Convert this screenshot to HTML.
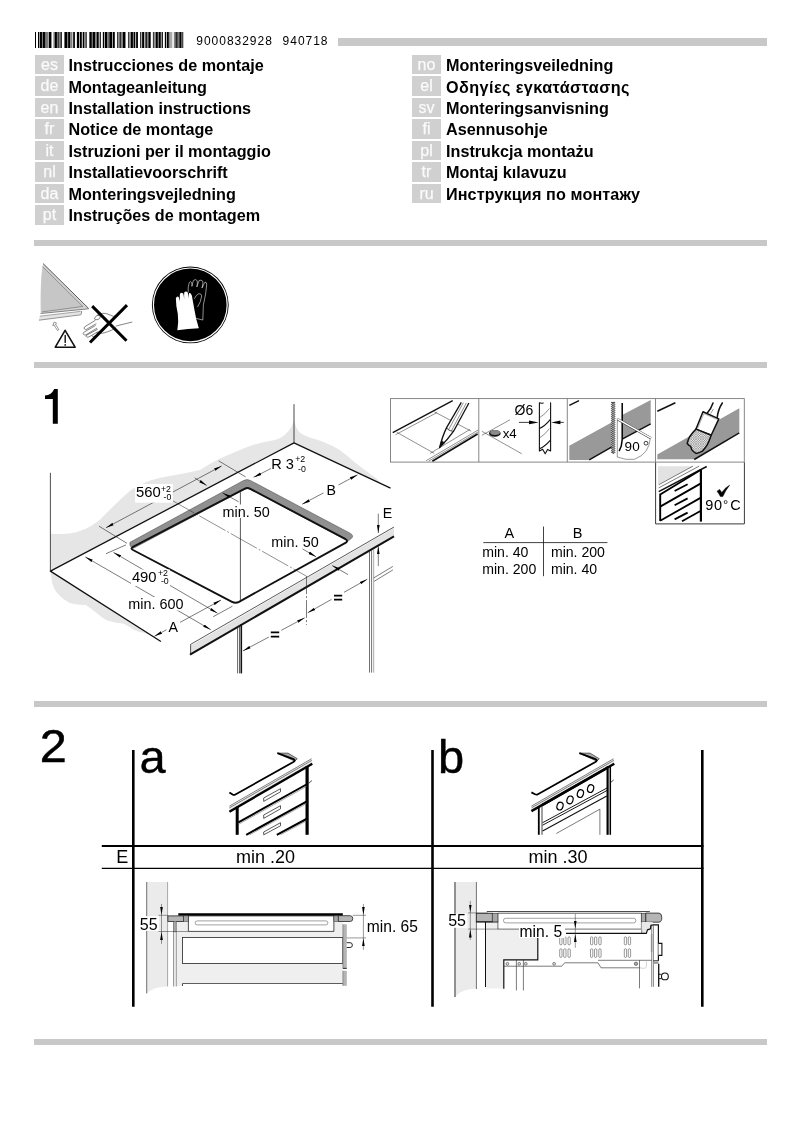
<!DOCTYPE html>
<html><head><meta charset="utf-8">
<style>
html,body{margin:0;padding:0;background:#fff;}
body{width:802px;height:1134px;position:relative;overflow:hidden;will-change:transform;font-family:"Liberation Sans",sans-serif;color:#000;}
.bar{position:absolute;background:#c8c8c8;left:34.2px;width:732.8px;height:6px;}
.lg{position:absolute;width:29px;height:19.3px;background:#d0d0d0;color:#fafafa;font-size:16px;line-height:20px;text-align:center;-webkit-text-stroke:0.25px #fafafa;}
.lt{position:absolute;font-weight:bold;font-size:16.2px;line-height:19px;white-space:nowrap;}
.num{position:absolute;top:33.3px;font-size:12px;line-height:16px;letter-spacing:0.98px;white-space:pre;}
svg{position:absolute;left:0;top:0;}
svg text{font-family:"Liberation Sans",sans-serif;fill:#000;}
</style></head><body>
<div class="bar" style="left:338px;width:429px;top:38.3px;height:7.5px"></div>
<div class="num" style="left:196.3px">9000832928</div><div class="num" style="left:282.6px">940718</div>
<div class="lg" style="left:35px;top:55.00px">es</div><div class="lt" style="left:68.5px;top:56.10px">Instrucciones de montaje</div>
<div class="lg" style="left:35px;top:76.46px">de</div><div class="lt" style="left:68.5px;top:77.56px">Montageanleitung</div>
<div class="lg" style="left:35px;top:97.92px">en</div><div class="lt" style="left:68.5px;top:99.02px">Installation instructions</div>
<div class="lg" style="left:35px;top:119.38px">fr</div><div class="lt" style="left:68.5px;top:120.48px">Notice de montage</div>
<div class="lg" style="left:35px;top:140.84px">it</div><div class="lt" style="left:68.5px;top:141.94px">Istruzioni per il montaggio</div>
<div class="lg" style="left:35px;top:162.30px">nl</div><div class="lt" style="left:68.5px;top:163.40px">Installatievoorschrift</div>
<div class="lg" style="left:35px;top:183.76px">da</div><div class="lt" style="left:68.5px;top:184.86px">Monteringsvejledning</div>
<div class="lg" style="left:35px;top:205.22px">pt</div><div class="lt" style="left:68.5px;top:206.32px">Instruções de montagem</div>
<div class="lg" style="left:412px;top:55.00px">no</div><div class="lt" style="left:446px;top:56.10px">Monteringsveiledning</div>
<div class="lg" style="left:412px;top:76.46px">el</div><div class="lt" style="left:446px;top:77.56px;letter-spacing:0.42px">Οδηγίες εγκατάστασης</div>
<div class="lg" style="left:412px;top:97.92px">sv</div><div class="lt" style="left:446px;top:99.02px">Monteringsanvisning</div>
<div class="lg" style="left:412px;top:119.38px">fi</div><div class="lt" style="left:446px;top:120.48px">Asennusohje</div>
<div class="lg" style="left:412px;top:140.84px">pl</div><div class="lt" style="left:446px;top:141.94px">Instrukcja montażu</div>
<div class="lg" style="left:412px;top:162.30px">tr</div><div class="lt" style="left:446px;top:163.40px">Montaj kılavuzu</div>
<div class="lg" style="left:412px;top:183.76px">ru</div><div class="lt" style="left:446px;top:184.86px;letter-spacing:0.1px">Инструкция по монтажу</div>
<div class="bar" style="top:240.2px"></div>
<div class="bar" style="top:362px"></div>
<div class="bar" style="top:701px"></div>
<div class="bar" style="top:1039px"></div>
<svg width="802" height="1134" viewBox="0 0 802 1134">
<defs>
<marker id="ah" viewBox="0 0 8 4" refX="8" refY="2" markerWidth="8" markerHeight="4" markerUnits="userSpaceOnUse" orient="auto-start-reverse"><path d="M0,0.65 L8,2 L0,3.35 Z" fill="#000"/></marker>
<pattern id="hatch" width="1.6" height="1.6" patternUnits="userSpaceOnUse"><rect width="1.6" height="1.6" fill="#f2f2f2"/><path d="M0,0L1.6,1.6M1.6,0L0,1.6" stroke="#222" stroke-width="0.24"/></pattern><pattern id="hatch2" width="2.4" height="2.4" patternUnits="userSpaceOnUse"><rect width="2.4" height="2.4" fill="#f0f0f0"/><path d="M0,0L2.4,2.4M2.4,0L0,2.4" stroke="#222" stroke-width="0.3"/></pattern>
</defs>
<rect x="35.00" y="32" width="1.00" height="16" fill="rgb(0,0,0)"/>
<rect x="37.99" y="32" width="1.20" height="16" fill="rgb(0,0,0)"/>
<rect x="39.18" y="32" width="0.60" height="16" fill="rgb(200,200,200)"/>
<rect x="39.78" y="32" width="2.19" height="16" fill="rgb(0,0,0)"/>
<rect x="41.98" y="32" width="0.70" height="16" fill="rgb(150,150,150)"/>
<rect x="42.68" y="32" width="2.29" height="16" fill="rgb(0,0,0)"/>
<rect x="44.97" y="32" width="1.00" height="16" fill="rgb(110,110,110)"/>
<rect x="45.97" y="32" width="2.00" height="16" fill="rgb(120,120,120)"/>
<rect x="47.96" y="32" width="1.00" height="16" fill="rgb(170,170,170)"/>
<rect x="48.96" y="32" width="2.49" height="16" fill="rgb(0,0,0)"/>
<rect x="53.45" y="32" width="1.50" height="16" fill="rgb(120,120,120)"/>
<rect x="54.95" y="32" width="2.00" height="16" fill="rgb(0,0,0)"/>
<rect x="56.94" y="32" width="1.00" height="16" fill="rgb(110,110,110)"/>
<rect x="57.94" y="32" width="1.20" height="16" fill="rgb(60,60,60)"/>
<rect x="59.13" y="32" width="1.30" height="16" fill="rgb(120,120,120)"/>
<rect x="60.43" y="32" width="1.50" height="16" fill="rgb(30,30,30)"/>
<rect x="64.42" y="32" width="2.99" height="16" fill="rgb(0,0,0)"/>
<rect x="67.41" y="32" width="0.70" height="16" fill="rgb(120,120,120)"/>
<rect x="68.11" y="32" width="2.00" height="16" fill="rgb(0,0,0)"/>
<rect x="70.11" y="32" width="2.29" height="16" fill="rgb(130,130,130)"/>
<rect x="72.40" y="32" width="0.80" height="16" fill="rgb(190,190,190)"/>
<rect x="73.20" y="32" width="1.70" height="16" fill="rgb(0,0,0)"/>
<rect x="76.89" y="32" width="2.19" height="16" fill="rgb(0,0,0)"/>
<rect x="79.08" y="32" width="0.80" height="16" fill="rgb(200,200,200)"/>
<rect x="79.88" y="32" width="2.00" height="16" fill="rgb(0,0,0)"/>
<rect x="81.88" y="32" width="1.00" height="16" fill="rgb(200,200,200)"/>
<rect x="82.88" y="32" width="1.20" height="16" fill="rgb(0,0,0)"/>
<rect x="84.07" y="32" width="1.30" height="16" fill="rgb(130,130,130)"/>
<rect x="85.37" y="32" width="1.50" height="16" fill="rgb(60,60,60)"/>
<rect x="89.36" y="32" width="2.49" height="16" fill="rgb(0,0,0)"/>
<rect x="91.85" y="32" width="1.00" height="16" fill="rgb(110,110,110)"/>
<rect x="92.85" y="32" width="2.49" height="16" fill="rgb(0,0,0)"/>
<rect x="95.34" y="32" width="1.50" height="16" fill="rgb(120,120,120)"/>
<rect x="96.84" y="32" width="2.00" height="16" fill="rgb(0,0,0)"/>
<rect x="98.84" y="32" width="1.00" height="16" fill="rgb(200,200,200)"/>
<rect x="99.83" y="32" width="1.00" height="16" fill="rgb(0,0,0)"/>
<rect x="102.83" y="32" width="1.20" height="16" fill="rgb(0,0,0)"/>
<rect x="104.02" y="32" width="0.80" height="16" fill="rgb(200,200,200)"/>
<rect x="104.82" y="32" width="2.49" height="16" fill="rgb(0,0,0)"/>
<rect x="107.31" y="32" width="1.00" height="16" fill="rgb(110,110,110)"/>
<rect x="108.31" y="32" width="1.70" height="16" fill="rgb(70,70,70)"/>
<rect x="110.00" y="32" width="2.00" height="16" fill="rgb(0,0,0)"/>
<rect x="112.00" y="32" width="0.80" height="16" fill="rgb(200,200,200)"/>
<rect x="112.79" y="32" width="2.00" height="16" fill="rgb(0,0,0)"/>
<rect x="116.98" y="32" width="1.50" height="16" fill="rgb(60,60,60)"/>
<rect x="118.48" y="32" width="1.00" height="16" fill="rgb(130,130,130)"/>
<rect x="119.48" y="32" width="1.50" height="16" fill="rgb(40,40,40)"/>
<rect x="120.97" y="32" width="2.00" height="16" fill="rgb(130,130,130)"/>
<rect x="122.97" y="32" width="2.49" height="16" fill="rgb(0,0,0)"/>
<rect x="127.96" y="32" width="1.50" height="16" fill="rgb(60,60,60)"/>
<rect x="129.45" y="32" width="1.50" height="16" fill="rgb(130,130,130)"/>
<rect x="130.95" y="32" width="2.00" height="16" fill="rgb(0,0,0)"/>
<rect x="132.94" y="32" width="1.00" height="16" fill="rgb(120,120,120)"/>
<rect x="133.94" y="32" width="1.50" height="16" fill="rgb(0,0,0)"/>
<rect x="135.44" y="32" width="0.70" height="16" fill="rgb(200,200,200)"/>
<rect x="136.13" y="32" width="1.80" height="16" fill="rgb(0,0,0)"/>
<rect x="140.22" y="32" width="1.20" height="16" fill="rgb(0,0,0)"/>
<rect x="141.42" y="32" width="0.70" height="16" fill="rgb(200,200,200)"/>
<rect x="142.12" y="32" width="2.29" height="16" fill="rgb(0,0,0)"/>
<rect x="144.41" y="32" width="1.00" height="16" fill="rgb(200,200,200)"/>
<rect x="145.41" y="32" width="1.50" height="16" fill="rgb(0,0,0)"/>
<rect x="146.91" y="32" width="1.50" height="16" fill="rgb(130,130,130)"/>
<rect x="148.40" y="32" width="2.29" height="16" fill="rgb(0,0,0)"/>
<rect x="152.89" y="32" width="1.50" height="16" fill="rgb(60,60,60)"/>
<rect x="154.39" y="32" width="1.50" height="16" fill="rgb(130,130,130)"/>
<rect x="155.89" y="32" width="2.00" height="16" fill="rgb(0,0,0)"/>
<rect x="157.88" y="32" width="1.00" height="16" fill="rgb(120,120,120)"/>
<rect x="158.88" y="32" width="2.00" height="16" fill="rgb(0,0,0)"/>
<rect x="160.87" y="32" width="0.80" height="16" fill="rgb(200,200,200)"/>
<rect x="161.67" y="32" width="1.20" height="16" fill="rgb(0,0,0)"/>
<rect x="164.86" y="32" width="1.20" height="16" fill="rgb(0,0,0)"/>
<rect x="166.06" y="32" width="0.80" height="16" fill="rgb(200,200,200)"/>
<rect x="166.86" y="32" width="2.00" height="16" fill="rgb(0,0,0)"/>
<rect x="168.85" y="32" width="1.00" height="16" fill="rgb(120,120,120)"/>
<rect x="169.85" y="32" width="2.49" height="16" fill="rgb(170,170,170)"/>
<rect x="173.84" y="32" width="1.50" height="16" fill="rgb(130,130,130)"/>
<rect x="175.34" y="32" width="2.49" height="16" fill="rgb(40,40,40)"/>
<rect x="177.83" y="32" width="1.50" height="16" fill="rgb(120,120,120)"/>
<rect x="179.33" y="32" width="2.00" height="16" fill="rgb(0,0,0)"/>
<rect x="181.32" y="32" width="2.00" height="16" fill="rgb(70,70,70)"/>
<g id="sec0">
<!-- glass plate -->
<path d="M43.1,263.6 Q40,280 40.6,313.5 L88.7,308.7 Z" fill="#d4d4d4"/>
<path d="M42.6,266.5 Q40.4,281 41.2,312 L82.9,306.5 Z" fill="#c6c6c6"/>
<path d="M43.1,263.6 L88.7,308.5" stroke="#444" stroke-width="0.9" fill="none"/>
<path d="M42.7,266.7 L82.9,306.5 L42,311.9" stroke="#666" stroke-width="0.6" fill="none"/>
<path d="M40.6,313.5 L88.7,308.8" stroke="#555" stroke-width="0.7" fill="none"/>
<path d="M39.8,316 L81.6,311 L81.6,314.3 L39,320.1 Z" fill="#e4e4e4"/>
<path d="M39.8,316.2 L80.5,311.4" stroke="#777" stroke-width="0.6"/>
<path d="M39,320.2 L80.8,314.8 Q81.8,313.5 81.6,311" stroke="#666" stroke-width="0.7" fill="none"/>
<!-- small bent arrow -->
<path d="M54.2,322 L56.6,323.2 L55.4,324 Q57,326.5 58.8,329.6 L57.4,330.4 Q55.5,327.5 54,324.9 L52.8,325.6 Z" fill="#fff" stroke="#333" stroke-width="0.5" stroke-linejoin="round"/>
<!-- warning triangle -->
<path d="M65.1,330.3 L75.1,347.2 L55.3,347.2 Z" fill="#fff" stroke="#111" stroke-width="1.6" stroke-linejoin="round"/>
<path d="M65.2,335.4 L65.2,342.4" stroke="#111" stroke-width="1.4" stroke-linecap="round"/>
<circle cx="65.2" cy="344.9" r="0.85" fill="#111"/>
<!-- hand -->
<g fill="none" stroke="#333" stroke-width="0.6" stroke-linecap="round" stroke-linejoin="round">
<path d="M94.5,318.4 Q95.5,316 97.4,315.2 Q100,313.6 102.7,313.3 Q105.5,313.2 107.9,314.1 L113.2,316.3 L117,316"/>
<path d="M97.4,315.2 Q99.6,315.4 100.4,316.7 Q100,318.6 98,319.6 Q96,320 94.8,319.2"/>
<path d="M95.2,320.4 L84.7,326.8 Q83.4,328 84.4,328.9 Q85,329.9 86.4,329.4 L96,323.8"/>
<path d="M95.2,325.7 L83.8,332.3 Q82.6,333.6 83.6,334.5 Q84.6,335.4 86,334.8 L96.7,328.3"/>
<path d="M97.4,329.4 L86.4,335.3 Q85.6,336.4 86.8,337 Q87.8,337.5 89,336.8 L98.2,331.7"/>
<path d="M92.2,336.1 Q93,337 94.4,336.3 L99.7,332.6"/>
<path d="M96.7,332.8 Q99.6,333.6 102.7,333.2 Q107.5,332 111.7,330.2 L115.4,327.9"/>
<path d="M116.1,326 L131.9,322.1"/>
</g>
<!-- X -->
<path d="M92.2,306.1 L126.5,340.8 M127,305.1 L90,342.5" stroke="#000" stroke-width="3" fill="none"/>
<!-- gloves circle -->
<circle cx="190.3" cy="304.9" r="38.4" fill="#000"/>
<circle cx="190.3" cy="304.9" r="36.9" fill="none" stroke="#fff" stroke-width="1.2"/>
<g transform="translate(145,260) scale(0.11223)">
<path d="M385,290 Q380,240 395,200 Q405,185 415,200 Q420,215 418,235 Q425,200 432,182 Q450,165 465,185 Q470,200 462,240 Q475,200 482,183 Q500,172 515,190 Q520,205 508,250 Q525,210 535,198 Q547,195 550,215 Q545,300 520,400 L515,535 L455,520" fill="none" stroke="#fff" stroke-width="5" stroke-linejoin="round"/>
<path d="M440,345 Q455,310 480,300 Q505,300 505,320 Q500,370 468,420" fill="none" stroke="#fff" stroke-width="5" stroke-linejoin="round"/>
<path d="M288,625 Q302,560 292,480 Q275,400 275,340 Q288,315 302,335 L312,370 Q308,320 312,300 Q326,282 342,300 L350,350 Q346,300 352,285 Q367,272 382,292 L390,345 Q388,305 394,295 Q408,288 418,318 Q425,360 440,440 Q452,520 480,608 Q380,612 288,625 Z" fill="#fff"/>
</g>
</g>

<g id="sec1">
<path d="M57.8,389 L57.8,423.75 L52.8,423.75 L52.8,399.1 L45,399.1 L45,395.5 Q51.5,395 54.2,389 Z" fill="#000"/>
<!-- wall shading -->
<path d="M50.4,533.8 Q60,534.2 69.9,533.4 Q78,532.5 85.9,528.8 Q93,525.3 99.9,519.8 L109.8,509.8 L119.8,499.9 Q124.8,495 129.8,490.9 Q134.8,487.3 139.8,484.9 Q145.7,482 151.7,479.9 Q160.7,477.3 169.7,475.9 Q176.7,474.9 183.6,473.5 Q192,471.7 200,469.9 Q210,463.5 220,458.6 Q235,452 249.9,446.1 Q262,441.8 274.8,439.9 Q280.5,438.5 284.8,434.9 Q288.5,431.5 291,427.4 Q293,424 294,420 Q295.5,428 299.7,432.4 Q304,435.8 309.7,437.4 Q317,439.3 324.7,442.4 Q332.5,445.5 339.7,449.9 Q347.5,455.5 354.6,462.3 L369.6,473.6 L376,478 L381,483.6 L294,442.8 L50.4,571.1 Z" fill="#e6e6e6"/>
<path d="M50.4,571.1 L52,582 Q53.5,589 58,593.9 Q63,599.5 69.9,602.9 Q77,605 85.9,604.9 Q92,609 97.9,613.9 Q102.5,618 107.8,620.8 Q115,623 123.8,623.8 Q129,626.5 133.8,629.8 Q138.5,632.2 143.7,632.8 L150,635.2 Z" fill="#e6e6e6"/>
<!-- walls -->
<path d="M50.4,472.8 L50.4,571.1" stroke="#222" stroke-width="0.8"/>
<path d="M294,404.2 L294,442.8" stroke="#333" stroke-width="0.9"/>
<!-- countertop outline -->
<path d="M160.9,641.5 L50.4,571.1 L294,442.8 L390.5,488.2" fill="none" stroke="#111" stroke-width="1.3" stroke-linejoin="round"/>
<!-- countertop front face -->
<path d="M190.6,645.8 L394,528 L394,536.2 L190.6,654.2 Z" fill="#e2e2e2"/>
<path d="M190.6,644.4 L394,527" stroke="#111" stroke-width="0.7"/><path d="M190.6,644.4 L190.6,654" stroke="#111" stroke-width="0.7"/>
<path d="M190,654.6 L394,536.4" stroke="#111" stroke-width="2"/>
<!-- cutout band -->
<path d="M130,542.3 L243.5,480.5 Q247,478.7 250.5,480.5 L350.3,533.3 Q354.4,535.8 351.3,538.6 L348,541 L250.3,489.3 Q247.4,487.8 244.5,489.3 L133,548.5 Q128.5,546 130,542.3 Z" fill="#909090" stroke="#4a4a4a" stroke-width="0.5"/>
<!-- cutout outline -->
<path d="M132.5,547.2 L244.5,488.8 Q247.4,487.3 250.3,488.8 L345.6,539.2 Q348.6,541 345.9,542.7 L239,601.8 Q235.5,603.6 232,601.8 L133,550 Q130.3,548.5 132.5,547.2 Z" fill="none" stroke="#111" stroke-width="1.9" stroke-linejoin="round"/>
<path d="M240.4,492.2 L240.4,601" stroke="#111" stroke-width="0.7"/>
<!-- center lines -->
<path d="M168,498.2 L306.3,576.1" stroke="#222" stroke-width="0.5" stroke-dasharray="30 2 2 2"/>
<path d="M306.5,576.1 L306.5,625" stroke="#222" stroke-width="0.6" stroke-dasharray="18 2 2 2"/>
<!-- cabinet legs -->
<path d="M237.6,626 L237.6,673.4 M239.5,625 L239.5,673.4" stroke="#222" stroke-width="0.7"/>
<path d="M241.3,624 L241.3,673.4" stroke="#111" stroke-width="1.6"/>
<path d="M369.5,551.5 L369.5,672.6 M371.6,550.3 L371.6,672.6" stroke="#111" stroke-width="0.6"/><path d="M373.7,549.2 L373.7,672.6" stroke="#555" stroke-width="0.5"/>
<path d="M373.6,578 L392.9,566.4 M374.2,581.3 L392.9,569.9" stroke="#222" stroke-width="0.6"/>
<!-- dimension lines -->
<g stroke="#222" stroke-width="0.6" fill="none">
<path d="M106,527.8 L221.7,465.9" marker-start="url(#ah)" marker-end="url(#ah)"/>
<path d="M99,526.2 L126.9,543.3"/>
<path d="M194.7,477.9 L206.7,485.5" marker-end="url(#ah)"/>
<path d="M218.7,460.9 L245.6,476.9"/>
<path d="M271,468.5 L253.6,477.3" marker-end="url(#ah)"/>
<path d="M302.2,504.2 L357.6,474.8" marker-start="url(#ah)" marker-end="url(#ah)"/>
<path d="M222.7,492.9 L238.6,501.8" marker-start="url(#ah)"/>
<path d="M113.5,552.4 L217.5,613.2" marker-start="url(#ah)" marker-end="url(#ah)"/>
<path d="M106,553.7 L126,544.9"/>
<path d="M213.2,616.7 L232.4,606.2"/>
<path d="M85.3,556.9 L210.8,629.7" marker-start="url(#ah)" marker-end="url(#ah)"/>
<path d="M154.4,636.3 L221,600.1" marker-start="url(#ah)" marker-end="url(#ah)"/>
<path d="M302.5,548.9 L316,556.8" marker-end="url(#ah)"/>
<path d="M348,574.6 L332.2,565.5" marker-end="url(#ah)"/>
<path d="M307.7,612.8 L367.3,579.2" marker-start="url(#ah)" marker-end="url(#ah)"/>
<path d="M242.9,650.9 L304.7,617.8" marker-start="url(#ah)" marker-end="url(#ah)"/>
<path d="M378.3,513.7 L378.3,533" marker-end="url(#ah)"/>
<path d="M378.3,566.1 L378.3,546.2" marker-end="url(#ah)"/>
</g>
<!-- labels -->
<rect x="135.1" y="484" width="37.8" height="18.7" fill="#fff"/>
<text x="136" y="497" font-size="14.8">560</text><text x="160.9" y="492.2" font-size="8.8">+2</text><text x="163.5" y="500.4" font-size="8.8">-0</text>
<text x="271.2" y="468.7" font-size="14.6">R 3</text><text x="295.2" y="462.3" font-size="8.8">+2</text><text x="298.1" y="471.7" font-size="8.8">-0</text>
<rect x="323.5" y="484" width="15" height="13" fill="#fff"/>
<text x="326.5" y="495.4" font-size="14.2">B</text>
<rect x="222" y="504.5" width="49" height="13.5" fill="#fff"/>
<text x="222.6" y="516.5" font-size="14.4">min. 50</text>
<rect x="270" y="535" width="49" height="13" fill="#fff"/>
<text x="271.2" y="546.8" font-size="14.4" letter-spacing="0.08">min. 50</text>
<rect x="131" y="569.5" width="39" height="16.5" fill="#fff"/>
<text x="131.9" y="581.9" font-size="14.8">490</text><text x="157.9" y="576" font-size="8.8">+2</text><text x="160.9" y="584.4" font-size="8.8">-0</text>
<rect x="127.5" y="597" width="57.5" height="13.5" fill="#fff"/>
<text x="128.3" y="608.9" font-size="14.4">min. 600</text>
<rect x="166.5" y="620" width="13.5" height="13" fill="#fff"/>
<text x="168.6" y="631.6" font-size="14.2">A</text>
<text x="382.8" y="518.1" font-size="14.2">E</text>
<rect x="331.5" y="592" width="12.5" height="11" fill="#fff"/>
<path d="M334,594.8 h8.2 v1.7 h-8.2 Z M334,598.8 h8.2 v1.7 h-8.2 Z" fill="#000"/>
<rect x="268.8" y="628.8" width="12.5" height="11.5" fill="#fff"/>
<path d="M270.8,631.6 h8.4 v1.7 h-8.4 Z M270.8,635.7 h8.4 v1.7 h-8.4 Z" fill="#000"/>
</g>

<g id="sec1b">
<!-- box 1 -->
<g>
<path d="M395.6,434.7 L437.2,412.4 M434.3,411.8 L471.2,431.2 M470,429.4 L430.2,453.4 M396.8,432.3 L434.3,453.4" fill="none" stroke="#222" stroke-width="0.5"/>
<path d="M392.7,432.6 L452.7,400.7" stroke="#111" stroke-width="1.5"/>
<path d="M426.1,460.7 L478.2,430 M428.6,461.2 L478.2,431.9" stroke="#222" stroke-width="0.5"/>
<path d="M432.3,461.2 L477.6,434" stroke="#111" stroke-width="1.7"/>
<!-- pencil -->
<path d="M439.6,447.6 Q442.5,436 446.6,427.6 L461.3,402.4 L468.9,403 L453.6,431.2 Q447,440.5 439.6,447.6 Z" fill="#fff"/>
<path d="M461.3,402.4 L446.6,427.6 Q442.5,436 439.6,447.6 Q447,440.5 453.6,431.2 L468.9,403" fill="none" stroke="#111" stroke-width="1.3" stroke-linejoin="round"/>
<path d="M448.4,430 L463.4,402.6 M451.3,431 L466.4,402.9" stroke="#222" stroke-width="0.5"/>
<path d="M446.6,427.6 Q448,430.5 451.3,431 L453.6,431.2" stroke="#111" stroke-width="0.7" fill="none"/>
<path d="M439.6,447.6 L441.6,440.8 L444.6,442.8 Z" fill="#111" stroke="#111" stroke-width="0.6"/>
</g>
<!-- box 2 -->
<g>
<path d="M481.9,435.3 L510,419.8 M481.9,431.3 L521.8,453.8" stroke="#222" stroke-width="0.5"/>
<ellipse cx="494.8" cy="433.4" rx="5.8" ry="3.4" fill="#111"/>
<ellipse cx="495.1" cy="432.5" rx="4.9" ry="2.5" fill="#8a8a8a"/>
<text x="502.7" y="437.9" font-size="13.3">x4</text>
<text x="514.6" y="415.2" font-size="14">Ø6</text>
<path d="M539.4,451 L539.4,402.8 Q541.5,403.6 543.2,403 M539.4,451 L542.6,449.2 L545.2,453.8 L547.6,449.4 L550.6,451 L550.6,402.8" fill="#fff" stroke="#111" stroke-width="1.1" stroke-linejoin="round" stroke-linecap="round"/>
<path d="M539.4,428.6 Q545,426 550.2,419.6 M539.4,448.8 Q545,446.5 550.2,440.4" stroke="#111" stroke-width="1.1" fill="none"/>
<path d="M540,417.4 Q545,414.5 549.4,408.4 M540,437.6 Q545,434.6 549.4,428.6" stroke="#222" stroke-width="0.5" fill="none"/>
<path d="M519,422.4 L530,422.4 M563.8,422.4 L559,422.4" stroke="#111" stroke-width="0.8"/>
<path d="M529,420.6 L538.6,422.4 L529,424.2 Z M560.4,420.6 L551.2,422.4 L560.4,424.2 Z" fill="#000"/>
</g>
<!-- box 3 -->
<g>
<path d="M569.3,445.8 L611.5,422.4 L611.5,447 L589.2,459.9 L569.3,459.9 Z M622.6,414.8 L650.7,400.1 L650.7,423.5 L622.6,438.8 Z" fill="#999"/>
<path d="M589.2,459.9 L611.5,447.2 M622.6,438.8 L650.7,423.9" stroke="#111" stroke-width="1.5"/>
<path d="M569.3,405.4 L579,400.7" stroke="#111" stroke-width="1.5"/>
<path id="saw" d="M611.4,402.4 l0.9,1 l-0.9,1 l0.9,1 l-0.9,1 l0.9,1 l-0.9,1 l0.9,1 l-0.9,1 l0.9,1 l-0.9,1 l0.9,1 l-0.9,1 l0.9,1 l-0.9,1 l0.9,1 l-0.9,1 l0.9,1 l-0.9,1 l0.9,1 l-0.9,1 l0.9,1 l-0.9,1 l0.9,1 l-0.9,1 l0.9,1 l-0.9,1 l0.9,1 l-0.9,1 l0.9,1 l-0.9,1 l0.9,1 l-0.9,1 l0.9,1 l-0.9,1 l0.9,1 l-0.9,1 l0.9,1 l-0.9,1 l0.9,1 l-0.9,1 l0.9,1 l-0.9,1 l0.9,1 l-0.9,1 l0.9,1 l-0.9,1 l0.9,1 l-0.9,1 l0.9,1 l-0.9,1 L614,453.4 l0.9,-1 l-0.9,-1 l0.9,-1 l-0.9,-1 l0.9,-1 l-0.9,-1 l0.9,-1 l-0.9,-1 l0.9,-1 l-0.9,-1 l0.9,-1 l-0.9,-1 l0.9,-1 l-0.9,-1 l0.9,-1 l-0.9,-1 l0.9,-1 l-0.9,-1 l0.9,-1 l-0.9,-1 l0.9,-1 l-0.9,-1 l0.9,-1 l-0.9,-1 l0.9,-1 l-0.9,-1 l0.9,-1 l-0.9,-1 l0.9,-1 l-0.9,-1 l0.9,-1 l-0.9,-1 l0.9,-1 l-0.9,-1 l0.9,-1 l-0.9,-1 l0.9,-1 l-0.9,-1 l0.9,-1 l-0.9,-1 l0.9,-1 l-0.9,-1 l0.9,-1 l-0.9,-1 l0.9,-1 l-0.9,-1 l0.9,-1 l-0.9,-1 l0.9,-1 l-0.9,-1 l0.9,-1 Z" fill="#9a9a9a" stroke="#111" stroke-width="0.7" stroke-linejoin="round"/>
<path d="M622.2,403 L622.2,439.4 Q622,446 619.1,451.1" stroke="#000" stroke-width="1.5" fill="none"/>
<path d="M617.3,418.3 L617.3,457 Q626,460.5 634.3,459.3 Q642,456.5 646,451.1 Q649.5,446 650.3,438.4" fill="none" stroke="#333" stroke-width="0.5"/>
<path d="M617.6,419.2 L651,438.2" stroke="#333" stroke-width="2.4"/>
<path d="M617.6,419.2 L651,438.2" stroke="#fff" stroke-width="1.5"/>
<text x="624.6" y="450.6" font-size="13.5" letter-spacing="0.2">90</text>
<circle cx="646" cy="443.2" r="1.9" fill="none" stroke="#111" stroke-width="0.8"/>
</g>
<!-- box 4 -->
<g>
<path d="M657.3,454.6 L739.3,408.3 L739.3,432.3 L694.2,459.3 L657.3,459.3 Z" fill="#999"/>
<path d="M694.2,459.5 L739.3,432.9" stroke="#111" stroke-width="1.5"/>
<path d="M657.3,411.2 L675.4,402.8" stroke="#111" stroke-width="1.5"/>
<path d="M713,403 Q711,409 707,413.6 M722.3,403 Q718,409.5 717.1,418.2" fill="none" stroke="#111" stroke-width="1.5" stroke-linecap="round"/>
<path d="M710.6,413.6 L713.5,408.9" stroke="#333" stroke-width="0.5"/>
<path d="M703,411.8 L718.8,418.9 L711.2,435.3 L696,429.1 Z" fill="#fff" stroke="#111" stroke-width="1.5" stroke-linejoin="round"/>
<path d="M697.6,428.6 L703.9,413.6 L717.4,419.6" fill="none" stroke="#444" stroke-width="0.4"/>
<path d="M696,429.1 L711.2,435.3 Q709.5,440.5 707.1,445.2 Q705,448.5 702.4,451.1 Q699,453 696,453.4 Q693.5,452 691.9,449.9 L690.7,446.4 Q688.5,445.3 687.2,443.5 Q688,440 689.5,437 Q692.5,432.5 696,429.1 Z" fill="url(#hatch2)" stroke="#111" stroke-width="1.5" stroke-linejoin="round"/>
</g>
<!-- box 5 -->
<g>
<path d="M658,466.2 L692.4,466.2 L658,484.8 Z" fill="#e2e2e2"/>
<path d="M658.7,484.8 L693,466.1 M658.7,487.9 L699.2,466.1" stroke="#222" stroke-width="0.6"/>
<path d="M658.7,491.7 L706.7,466.5" stroke="#111" stroke-width="1.5"/>
<path d="M700.9,469.5 L700.9,521.6" stroke="#000" stroke-width="2.2"/>
<path d="M660.2,493.6 L660.2,521" stroke="#000" stroke-width="1.9"/>
<path d="M660.6,494.2 L700.5,469.9 M660.2,506.6 L700.9,483.4 M660.2,520.8 L700.9,497.6 M682,521.2 L700.9,510.8" stroke="#000" stroke-width="1.8"/>
<path d="M674.6,491 L687.6,484.2 M674.6,505.2 L687.6,498.4 M674.6,519.4 L687.6,512.6" stroke="#000" stroke-width="1.8"/>
<path d="M717,491.2 L719.6,489.4 L721.8,492.4 Q725,487.6 729.6,485.2 Q725.4,490.4 722.8,496.6 L720.4,496.6 Q719,493.6 717,491.2 Z" fill="#000" stroke="#000" stroke-width="0.5" stroke-linejoin="round"/>
<text x="705.3" y="509.8" font-size="14.5" letter-spacing="0.6">90</text><text x="723" y="509" font-size="13">°</text><text x="730.3" y="509.8" font-size="14.5">C</text>
</g>
<!-- frames -->
<g fill="none" stroke="#7a7a7a" stroke-width="0.9">
<rect x="390.5" y="398.6" width="353.8" height="63.5"/>
<path d="M478.8,398.6 V462.1 M567.3,398.6 V462.1 M655.5,398.6 V462.1"/>
</g>
<path d="M655.6,462.4 V523.9 H744.4 V462.4" fill="none" stroke="#3a3a3a" stroke-width="1"/>
<!-- table -->
<path d="M483.3,542.6 H607.4 M543.5,526.5 V576.2" stroke="#111" stroke-width="0.8"/>
<text x="509.4" y="538" font-size="14.5" text-anchor="middle">A</text>
<text x="577.7" y="538" font-size="14.5" text-anchor="middle">B</text>
<text x="482.2" y="557.3" font-size="14.1">min. 40</text>
<text x="482.2" y="573.6" font-size="14.1">min. 200</text>
<text x="550.9" y="557.3" font-size="14.1">min. 200</text>
<text x="550.9" y="573.6" font-size="14.1">min. 40</text>
</g>

<g id="sec2">
<text x="39.8" y="762.2" font-size="47" textLength="27" lengthAdjust="spacingAndGlyphs" stroke="#000" stroke-width="0.5">2</text>
<text x="139.5" y="773.2" font-size="47" stroke="#000" stroke-width="0.4">a</text>
<text x="438" y="773.2" font-size="47" stroke="#000" stroke-width="0.4">b</text>
<!-- grid -->
<path d="M133.3,749.9 V1006.7 M432.5,749.9 V1006.7 M702.3,749.9 V1006.7" stroke="#000" stroke-width="2.6"/>
<path d="M101.8,845.9 H703.5" stroke="#000" stroke-width="2"/>
<path d="M101.8,868.4 H703.5" stroke="#000" stroke-width="1.2"/>
<text x="116.3" y="862.7" font-size="18">E</text>
<text x="265.6" y="863" font-size="18" text-anchor="middle">min .20</text>
<text x="558" y="863" font-size="18" text-anchor="middle">min .30</text>

<!-- sketch a -->
<g id="ska">
<path d="M229.4,806.1 L311.6,758.7 L312.3,763.7 L229.4,811.7 Z" fill="#ececec"/>
<path d="M229.4,806.1 L311.6,758.7 M229.4,807.9 L311.8,760.4" stroke="#222" stroke-width="0.55"/>
<path d="M229.4,811.7 L312.3,763.7" stroke="#000" stroke-width="2.4"/>
<path d="M277.4,753.1 L288,753.1 L297.3,758.7 L294.8,761.2 Z" fill="#aaa" stroke="#222" stroke-width="0.6"/>
<path d="M229.4,792.4 L232.6,794.5 Q233.9,795.3 235.4,794.5 L293.4,762 Q296,760.4 293.4,759.1 L277.4,753.1" fill="none" stroke="#000" stroke-width="1.8" stroke-linejoin="round"/>
<path d="M237.2,806.7 V834.8" stroke="#000" stroke-width="3"/>
<path d="M307.1,766.2 V834.8" stroke="#000" stroke-width="3.2"/>
<path d="M238.4,822.4 L307.3,784 M246.2,834.8 L307.3,801.1 M276.8,834.8 L307.3,818.5" stroke="#000" stroke-width="2"/>
<path d="M238.4,824.4 L307.3,786 M249.6,834.8 L307.3,803.1 M280.4,834.8 L307.3,820.5" stroke="#555" stroke-width="0.5"/>
<path d="M308.6,783.4 L311.9,780.6" stroke="#222" stroke-width="0.8"/>
<g fill="#fff" stroke="#222" stroke-width="0.75" stroke-linejoin="round">
<path d="M263.7,798 L280.5,788.7 L280.5,791.8 L263.7,801.4 Z"/>
<path d="M263.7,815 L280.5,805.7 L280.5,808.8 L263.7,818.4 Z"/>
<path d="M263.7,832 L280.5,822.7 L280.5,825.8 L263.7,834.8 Z"/>
</g>
</g>
<!-- sketch b -->
<g id="skb">
<path d="M531.4,806.1 L613.6,758.7 L614.3,763.7 L531.4,811.1 Z" fill="#ececec"/>
<path d="M531.4,806.1 L613.6,758.7 M531.6,807.8 L613.8,760.4" stroke="#222" stroke-width="0.55"/>
<path d="M531.4,811.1 L614.3,763.7" stroke="#000" stroke-width="2.4"/>
<path d="M579.4,753.1 L590,753.1 L599.3,758.7 L596.8,761.2 Z" fill="#aaa" stroke="#222" stroke-width="0.6"/>
<path d="M531.4,792.4 L535,794.3 Q536.4,795 537.9,794.2 L595.4,762 Q598,760.4 595.4,759.1 L579.4,753.1" fill="none" stroke="#000" stroke-width="1.8" stroke-linejoin="round"/>
<path d="M538.8,807.3 V834.8" stroke="#000" stroke-width="1.8"/>
<path d="M542,806 V834.8" stroke="#111" stroke-width="0.8"/>
<path d="M607.6,766.2 V834.8" stroke="#000" stroke-width="2.2"/>
<path d="M610.3,765 V834.8" stroke="#000" stroke-width="1.5"/>
<path d="M542.6,804.9 L606.8,768.1" stroke="#000" stroke-width="2.4"/>
<path d="M542.6,822.7 L607.4,787.8 M542.6,825.2 L607.4,790.3" stroke="#000" stroke-width="0.9"/>

<path d="M542.6,831 L606.8,796.1" stroke="#111" stroke-width="1.1"/>
<g fill="#fff" stroke="#000" stroke-width="1.2">
<ellipse cx="560" cy="806.1" rx="3" ry="3.9" transform="rotate(18 560 806.1)"/>
<ellipse cx="570" cy="799.9" rx="3" ry="3.9" transform="rotate(18 570 799.9)"/>
<ellipse cx="580.4" cy="793.6" rx="3" ry="3.9" transform="rotate(18 580.4 793.6)"/>
<ellipse cx="590.6" cy="788.6" rx="3" ry="3.9" transform="rotate(18 590.6 788.6)"/>
</g>
<path d="M556.3,833.5 L599.9,809.2 L599.9,834.8" fill="none" stroke="#222" stroke-width="0.6"/>
<path d="M610.8,782.4 L613.7,779.9" stroke="#222" stroke-width="0.8"/>
</g>

<!-- section a -->
<g id="seca">
<path d="M146.9,882 H167.9 V986.4 Q153,986.5 146.9,993.5 Z" fill="#ebebeb"/>
<path d="M146.7,882 V993.4" stroke="#333" stroke-width="0.7"/><path d="M167.6,882 V986.4" stroke="#777" stroke-width="0.6"/>
<!-- cabinet light fill -->
<path d="M176.3,921.5 H342.8 V986 H176.3 Z" fill="#efefef"/>
<rect x="182.5" y="937.4" width="160.3" height="26" fill="#fff" stroke="#222" stroke-width="0.8"/>
<path d="M182.5,986 V983.6 H342.8" fill="#fff" stroke="#222" stroke-width="0.8"/>
<rect x="183.1" y="984" width="159.4" height="2.5" fill="#fff"/>
<!-- hob body -->
<path d="M188.4,915.9 H333.9 V931.4 H188.4 Z" fill="#fff" stroke="#222" stroke-width="0.8"/>
<rect x="195.2" y="920.9" width="132.7" height="4" rx="2" fill="#fff" stroke="#444" stroke-width="0.5"/>
<path d="M178.3,914.5 H342.8" stroke="#000" stroke-width="2.6"/>
<!-- countertop pieces -->
<rect x="167.9" y="915.9" width="15.5" height="5.6" fill="url(#hatch)" stroke="#222" stroke-width="0.8"/>
<rect x="183.6" y="915.9" width="4.6" height="5.4" fill="#a8a8a8" stroke="#222" stroke-width="0.5"/>
<rect x="333.9" y="915.9" width="4.4" height="5.4" fill="#a8a8a8" stroke="#222" stroke-width="0.5"/>
<path d="M338.3,915.7 H350.3 Q352.8,916 352.8,918.6 Q352.8,921.3 350.3,921.5 H338.3 Z" fill="url(#hatch)" stroke="#222" stroke-width="0.8"/>
<!-- left support -->
<rect x="173.5" y="921.5" width="2.8" height="11" fill="#aaa"/>
<path d="M173.5,921.5 V986.5 M176.3,921.5 V986.5" stroke="#333" stroke-width="0.5"/><path d="M174.9,933.5 V986.5" stroke="#999" stroke-width="0.4"/>
<!-- right front -->
<rect x="342.8" y="924.3" width="4" height="43.5" fill="#b4b4b4"/>
<rect x="342.8" y="970.8" width="4" height="15" fill="#b4b4b4"/>
<path d="M342.9,924.3 V967.8 M342.9,970.8 V985.8" stroke="#555" stroke-width="0.5"/>
<path d="M342.8,968.3 H346.8" stroke="#111" stroke-width="1"/>
<path d="M346.8,942.7 H350 A2.4,2.4 0 0 1 350,947.5 H346.8" fill="#fff" stroke="#111" stroke-width="0.9"/>
<!-- dims -->
<g stroke="#333" stroke-width="0.5" fill="none">
<path d="M158.5,915.3 H167.9 M158.5,931.5 H188.2"/>
<path d="M161.5,903.9 V914.9" marker-end="url(#ah)"/><path d="M161.5,914.9 V931.9"/>
<path d="M161.5,943.8 V931.9" marker-end="url(#ah)"/>
<path d="M352.8,915.3 H366 M346.8,937.9 H366"/>
<path d="M363.4,903.9 V914.9" marker-end="url(#ah)"/><path d="M363.4,914.9 V938.3"/>
<path d="M363.4,949.8 V938.3" marker-end="url(#ah)"/>
</g>
<rect x="139" y="916.2" width="20" height="14.6" fill="#fff"/><text x="139.8" y="929.5" font-size="16">55</text>
<text x="366.8" y="932.3" font-size="15.6">min. 65</text>
</g>

<!-- section b -->
<g id="secb">
<path d="M456,882 H475.9 V988.5 Q462,989 456,996 Z" fill="#ebebeb"/>
<path d="M455,882 V997" stroke="#222" stroke-width="1"/>
<path d="M476.4,882 V989" stroke="#333" stroke-width="0.7"/>
<!-- light fill region -->
<path d="M485.5,921.9 H497.9 V929.1 H537.8 V959.8 H503.8 V988.5 H485.5 Z" fill="#efefef"/>
<!-- hob -->
<path d="M486.8,911.6 H649.8" stroke="#222" stroke-width="0.9"/>
<path d="M497.9,913.3 H641.4 V929.1 H497.9 Z" fill="#fff" stroke="#333" stroke-width="0.7"/>
<rect x="503.4" y="918.3" width="132.5" height="4.6" rx="2.3" fill="#fff" stroke="#444" stroke-width="0.5"/>
<rect x="476.3" y="913.3" width="16" height="8.6" fill="url(#hatch)" stroke="#222" stroke-width="0.8"/><path d="M476.3,921.9 H497.9" stroke="#111" stroke-width="1"/>
<rect x="492.3" y="913.3" width="5.6" height="8.6" fill="#a8a8a8" stroke="#222" stroke-width="0.5"/>
<rect x="641.4" y="913.3" width="4.4" height="8.6" fill="#a8a8a8" stroke="#222" stroke-width="0.5"/>
<path d="M645.8,913.1 H659 Q661.8,913.4 661.8,917.6 Q661.8,921.9 659,922.2 H645.8 Z" fill="url(#hatch)" stroke="#222" stroke-width="0.8"/>
<!-- verticals -->
<path d="M485.5,921.9 V987" stroke="#111" stroke-width="1"/>
<!-- oven top -->
<path d="M537.8,936.9 V959.8 H503.8 V988.7" fill="none" stroke="#111" stroke-width="1.2"/>
<path d="M516.4,959.8 V990.5 M523.4,959.8 V990.5" stroke="#222" stroke-width="0.6"/>
<path d="M503.8,966.2 H561.7 L564.7,962.8 H598 L601,967.8 H639.5 M598,960.3 H651.7" fill="none" stroke="#222" stroke-width="0.6"/>
<g fill="#ddd" stroke="#222" stroke-width="0.5">
<circle cx="507.4" cy="963.8" r="1.4"/><circle cx="519.2" cy="963.8" r="1.4"/><circle cx="525.8" cy="963.8" r="1.4"/><circle cx="554.1" cy="963.8" r="1.4"/><circle cx="636" cy="963.8" r="1.7" fill="#aaa"/>
</g>
<!-- vents -->
<g fill="#fff" stroke="#333" stroke-width="0.5">
<rect x="559.7" y="936.9" width="2.3" height="7.9" rx="1"/><rect x="563.7" y="936.9" width="2.3" height="7.9" rx="1"/><rect x="568" y="936.9" width="2.3" height="7.9" rx="1"/>
<rect x="559.7" y="948.8" width="2.3" height="8.6" rx="1"/><rect x="563.7" y="948.8" width="2.3" height="8.6" rx="1"/><rect x="568" y="948.8" width="2.3" height="8.6" rx="1"/>
<rect x="590.5" y="936.9" width="2.3" height="7.9" rx="1"/><rect x="594.5" y="936.9" width="2.3" height="7.9" rx="1"/><rect x="598.8" y="936.9" width="2.3" height="7.9" rx="1"/>
<rect x="590.5" y="948.8" width="2.3" height="8.6" rx="1"/><rect x="594.5" y="948.8" width="2.3" height="8.6" rx="1"/><rect x="598.8" y="948.8" width="2.3" height="8.6" rx="1"/>
<rect x="624.3" y="936.9" width="2.3" height="7.9" rx="1"/><rect x="628.3" y="936.9" width="2.3" height="7.9" rx="1"/>
<rect x="624.3" y="948.8" width="2.3" height="8.6" rx="1"/><rect x="628.3" y="948.8" width="2.3" height="8.6" rx="1"/>
</g>
<!-- oven front -->
<path d="M641.7,921.9 H652.9 L650.9,925.4 L650.4,928.9 L647.4,929.9 L646.4,933.4 H641.7 Z" fill="#e8e8e8"/>
<path d="M641.7,929.4 V933.4" stroke="#333" stroke-width="0.6"/>
<path d="M566,933.4 H646.4 L647.4,929.9 L650.4,928.9 L650.9,925.4 L652.9,924.9" fill="none" stroke="#111" stroke-width="1.2" stroke-linejoin="round"/>
<rect x="650.4" y="933.9" width="2.6" height="18" fill="#e4e4e4"/>
<path d="M651.7,925.4 V986.8 M653.4,925.4 V986.8" stroke="#222" stroke-width="0.55"/>
<path d="M652.9,924.9 H658.4 V960.8" fill="none" stroke="#111" stroke-width="1.2"/>
<path d="M658.4,943.4 H661.9 V955.4 H658.4" fill="#fff" stroke="#111" stroke-width="1.1"/>
<path d="M653.4,960.8 H658.4" stroke="#111" stroke-width="0.9"/>
<rect x="653.4" y="961.8" width="5" height="2" fill="#999"/>
<path d="M658.7,963.8 V986.8" stroke="#111" stroke-width="1.3"/>
<path d="M658.7,974.3 H661.6 M658.7,978.6 H661.6" stroke="#111" stroke-width="0.9"/>
<circle cx="664.9" cy="976.4" r="3.4" fill="#fff" stroke="#111" stroke-width="1.1"/>
<path d="M639.5,960.3 V988.3" stroke="#222" stroke-width="0.6"/>
<path d="M646.4,960.3 V966.4 Q646.2,968 644,968.4 L640,967.8" fill="none" stroke="#aaa" stroke-width="0.5"/>
<!-- dims -->
<g stroke="#333" stroke-width="0.5" fill="none">
<path d="M468,912.9 H487.9 M468,929.1 H497.9"/>
<path d="M470.3,900.9 V912.5" marker-end="url(#ah)"/><path d="M470.3,912.5 V929.5"/>
<path d="M470.3,939.9 V929.5" marker-end="url(#ah)"/>
<path d="M575.3,913.9 V928.7" marker-end="url(#ah)"/><path d="M575.3,928.7 V934.1"/>
<path d="M575.3,947.8 V934.1" marker-end="url(#ah)"/>
</g>
<rect x="519" y="925.5" width="46" height="12.5" fill="#fff"/>
<rect x="447.3" y="913.8" width="20" height="14" fill="#fff"/><text x="448.2" y="926.4" font-size="16">55</text>
<text x="519.6" y="936.9" font-size="15.6">min. 5</text>
</g>
</g>

</svg>
</body></html>
